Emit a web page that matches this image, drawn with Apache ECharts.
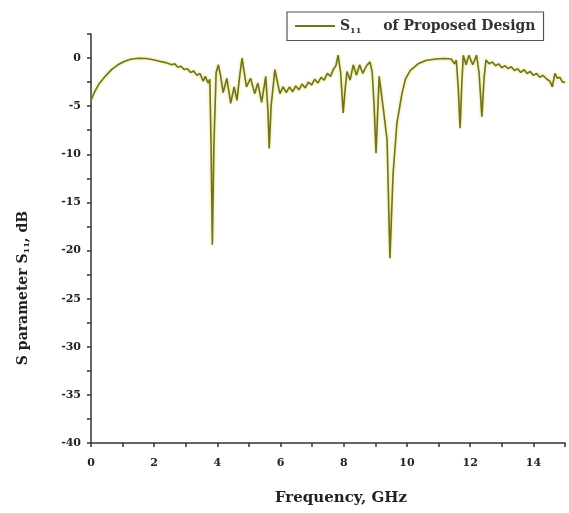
<!DOCTYPE html>
<html><head><meta charset="utf-8">
<script src="https://cdn.jsdelivr.net/npm/echarts@6/dist/echarts.min.js"></script>
<style>html,body{margin:0;padding:0;background:#fff}#c{width:569px;height:513px}</style>
</head><body><div id="c"></div>
<script>
const freqGHz = [0.00,0.10,0.25,0.45,0.65,0.85,1.05,1.25,1.50,1.75,2.00,2.20,2.40,2.55,2.65,2.75,2.85,2.95,3.05,3.15,3.25,3.35,3.45,3.55,3.62,3.70,3.76,3.80,3.84,3.89,3.96,4.03,4.10,4.18,4.30,4.42,4.53,4.62,4.70,4.78,4.85,4.92,5.05,5.18,5.28,5.40,5.53,5.60,5.64,5.70,5.82,5.90,5.98,6.08,6.18,6.28,6.38,6.48,6.58,6.68,6.78,6.88,6.98,7.08,7.18,7.28,7.38,7.48,7.58,7.68,7.75,7.82,7.90,7.98,8.05,8.10,8.20,8.30,8.40,8.50,8.60,8.72,8.83,8.90,8.96,9.02,9.08,9.12,9.24,9.37,9.46,9.56,9.68,9.84,9.95,10.10,10.35,10.60,10.90,11.20,11.40,11.50,11.56,11.62,11.68,11.73,11.78,11.87,11.96,12.08,12.20,12.28,12.37,12.44,12.50,12.60,12.70,12.80,12.90,13.00,13.10,13.20,13.30,13.40,13.50,13.60,13.70,13.80,13.90,14.00,14.10,14.20,14.30,14.43,14.52,14.60,14.68,14.76,14.84,14.92,15.00];
const s11dB = [-4.4,-3.6,-2.7,-1.9,-1.2,-0.7,-0.35,-0.12,-0.02,-0.05,-0.2,-0.35,-0.5,-0.7,-0.6,-0.95,-0.85,-1.2,-1.1,-1.5,-1.35,-1.8,-1.6,-2.4,-1.9,-2.6,-2.2,-9,-19.4,-9,-1.5,-0.7,-1.8,-3.6,-2.1,-4.7,-3.0,-4.4,-2.0,0.0,-1.5,-3.0,-2.1,-3.7,-2.6,-4.6,-1.9,-5.5,-9.4,-5,-1.2,-2.5,-3.7,-3.0,-3.6,-3.0,-3.5,-2.9,-3.3,-2.7,-3.1,-2.5,-2.8,-2.2,-2.6,-2.0,-2.3,-1.6,-1.9,-1.1,-0.8,0.3,-1.5,-5.7,-3,-1.4,-2.3,-0.7,-1.8,-0.7,-1.6,-0.8,-0.4,-1.5,-5,-9.9,-5,-1.9,-5.0,-8.5,-20.8,-12,-6.8,-3.7,-2.2,-1.3,-0.6,-0.25,-0.1,-0.05,-0.1,-0.6,-0.2,-3,-7.3,-3,0.3,-0.7,0.3,-0.7,0.3,-1.5,-6.1,-2,-0.2,-0.6,-0.4,-0.8,-0.6,-1.0,-0.8,-1.1,-0.9,-1.3,-1.1,-1.5,-1.2,-1.6,-1.4,-1.8,-1.6,-2.0,-1.8,-2.2,-2.4,-3.0,-1.6,-2.1,-2.0,-2.5,-2.5];
const xTickLabels = [0,2,4,6,8,10,12,14];
const yTickLabels = [0,-5,-10,-15,-20,-25,-30,-35,-40];
const seriesName = 'S11 of Proposed Design';

const font = '"DejaVu Serif",serif';
const ink = '#222';
const chart = echarts.init(document.getElementById('c'));
chart.setOption({
  backgroundColor: '#fff',
  animation: false,
  grid: {left: 91, right: 4, top: 34, bottom: 70},
  legend: {
    left: 287, top: 12, padding: [7, 8, 6, 8],
    borderColor: '#555', borderWidth: 1.2,
    itemWidth: 40, itemHeight: 2, itemGap: 5,
    icon: 'rect',
    data: [seriesName],
    formatter: () => '{s|S}{sub|11}{t|of Proposed Design}',
    textStyle: {
      rich: {
        s: {fontFamily: font, fontWeight: 'bold', fontSize: 14, color: '#333'},
        sub: {fontFamily: font, fontWeight: 'bold', fontSize: 8, color: '#333', padding: [9,0,0,0]},
        t: {fontFamily: font, fontWeight: 'bold', fontSize: 14, color: '#333', padding: [0,0,0,22]}
      }
    }
  },
  graphic: [
    {type: 'text', x: 23, y: 288, rotation: Math.PI / 2,
     style: {text: '{s|S parameter S}{sub|11}{s|, dB}', align: 'center', verticalAlign: 'middle',
       rich: {
         s: {fontFamily: font, fontWeight: 'bold', fontSize: 14, fill: ink},
         sub: {fontFamily: font, fontWeight: 'bold', fontSize: 8, fill: ink, padding: [8,0,0,0]}
       }}},
    {type: 'text', x: 341, y: 498,
     style: {text: 'Frequency, GHz', align: 'center', verticalAlign: 'middle',
       fontFamily: font, fontWeight: 'bold', fontSize: 15, fill: ink}}
  ],
  xAxis: {
    type: 'value', min: 0, max: 15, interval: 1,
    axisLine: {onZero: false, lineStyle: {color: '#333', width: 1.5}},
    axisTick: {length: 4, lineStyle: {color: '#333', width: 1.5}},
    splitLine: {show: false},
    axisLabel: {
      margin: 15, fontFamily: font, fontWeight: 'bold', fontSize: 11, color: ink,
      formatter: v => xTickLabels.includes(v) ? String(v) : ''
    }
  },
  yAxis: {
    type: 'value', min: -40, max: 2.5, interval: 2.5,
    axisLine: {onZero: false, lineStyle: {color: '#333', width: 1.5}},
    axisTick: {length: 4, lineStyle: {color: '#333', width: 1.5}},
    splitLine: {show: false},
    axisLabel: {
      margin: 10, fontFamily: font, fontWeight: 'bold', fontSize: 11, color: ink,
      formatter: v => yTickLabels.includes(v) ? String(v) : ''
    }
  },
  series: [{
    name: seriesName, type: 'line', symbol: 'none',
    data: freqGHz.map((f, i) => [f, s11dB[i]]),
    lineStyle: {color: '#72721e', width: 1.6, shadowColor: 'rgba(210,210,40,0.75)', shadowBlur: 3},
    itemStyle: {color: '#72721e'}
  }]
});
</script></body></html>
